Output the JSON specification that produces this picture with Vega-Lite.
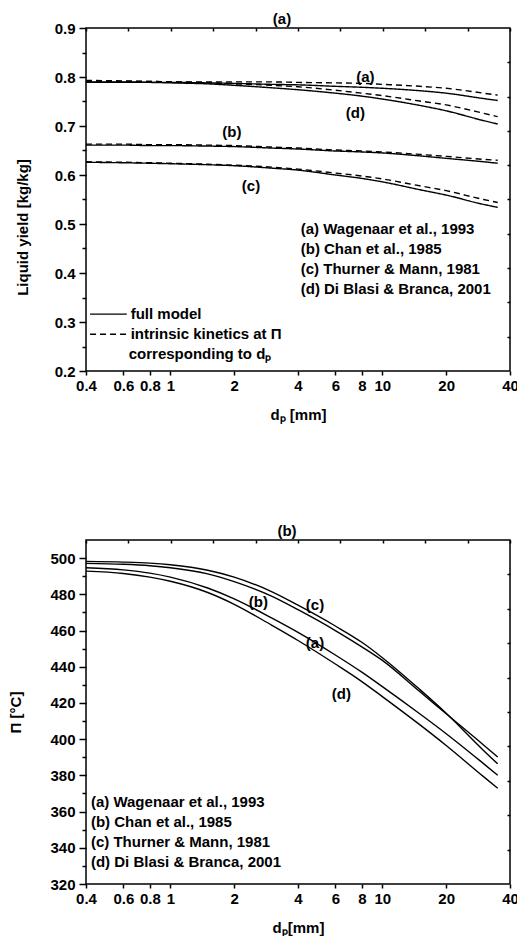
{
  "$schema": "https://vega.github.io/schema/vega-lite/v6.json",
  "padding": {"left": 8, "top": 11, "right": 0, "bottom": 0},
  "spacing": 100,
  "config": {
    "font": "Liberation Sans",
    "view": {"stroke": "black", "strokeWidth": 1.5},
    "axis": {"labelFontSize": 15, "labelFontWeight": "bold", "labelColor": "black", "titleFontSize": 15, "titleFontWeight": "bold", "titleColor": "black", "tickColor": "black", "tickWidth": 1.5, "grid": false, "domain": false, "labelOverlap": false, "labelFlush": false, "labelBound": false},
    "title": {"fontSize": 15, "fontWeight": "bold", "color": "black"},
    "text": {"fontSize": 15, "fontWeight": "bold", "color": "black"}
  },
  "datasets": {
    "lineA": [
      {"d":0.4,"y":0.789,"curve":"a","kind":"full"},{"d":0.6,"y":0.789,"curve":"a","kind":"full"},{"d":0.8,"y":0.789,"curve":"a","kind":"full"},{"d":1,"y":0.789,"curve":"a","kind":"full"},{"d":1.5,"y":0.788,"curve":"a","kind":"full"},{"d":2,"y":0.787,"curve":"a","kind":"full"},{"d":3,"y":0.785,"curve":"a","kind":"full"},{"d":4,"y":0.784,"curve":"a","kind":"full"},{"d":6,"y":0.781,"curve":"a","kind":"full"},{"d":8,"y":0.779,"curve":"a","kind":"full"},{"d":10,"y":0.777,"curve":"a","kind":"full"},{"d":15,"y":0.772,"curve":"a","kind":"full"},{"d":20,"y":0.767,"curve":"a","kind":"full"},{"d":30,"y":0.756,"curve":"a","kind":"full"},{"d":35,"y":0.752,"curve":"a","kind":"full"},
      {"d":0.4,"y":0.792,"curve":"a","kind":"intrinsic"},{"d":0.6,"y":0.791,"curve":"a","kind":"intrinsic"},{"d":0.8,"y":0.791,"curve":"a","kind":"intrinsic"},{"d":1,"y":0.790,"curve":"a","kind":"intrinsic"},{"d":1.5,"y":0.790,"curve":"a","kind":"intrinsic"},{"d":2,"y":0.790,"curve":"a","kind":"intrinsic"},{"d":3,"y":0.790,"curve":"a","kind":"intrinsic"},{"d":4,"y":0.789,"curve":"a","kind":"intrinsic"},{"d":6,"y":0.788,"curve":"a","kind":"intrinsic"},{"d":8,"y":0.787,"curve":"a","kind":"intrinsic"},{"d":10,"y":0.785,"curve":"a","kind":"intrinsic"},{"d":15,"y":0.781,"curve":"a","kind":"intrinsic"},{"d":20,"y":0.777,"curve":"a","kind":"intrinsic"},{"d":30,"y":0.767,"curve":"a","kind":"intrinsic"},{"d":35,"y":0.763,"curve":"a","kind":"intrinsic"},
      {"d":0.4,"y":0.790,"curve":"d","kind":"full"},{"d":0.6,"y":0.790,"curve":"d","kind":"full"},{"d":0.8,"y":0.789,"curve":"d","kind":"full"},{"d":1,"y":0.788,"curve":"d","kind":"full"},{"d":1.5,"y":0.786,"curve":"d","kind":"full"},{"d":2,"y":0.783,"curve":"d","kind":"full"},{"d":3,"y":0.778,"curve":"d","kind":"full"},{"d":4,"y":0.774,"curve":"d","kind":"full"},{"d":6,"y":0.767,"curve":"d","kind":"full"},{"d":8,"y":0.761,"curve":"d","kind":"full"},{"d":10,"y":0.755,"curve":"d","kind":"full"},{"d":15,"y":0.742,"curve":"d","kind":"full"},{"d":20,"y":0.731,"curve":"d","kind":"full"},{"d":30,"y":0.711,"curve":"d","kind":"full"},{"d":35,"y":0.704,"curve":"d","kind":"full"},
      {"d":0.4,"y":0.793,"curve":"d","kind":"intrinsic"},{"d":0.6,"y":0.792,"curve":"d","kind":"intrinsic"},{"d":0.8,"y":0.791,"curve":"d","kind":"intrinsic"},{"d":1,"y":0.790,"curve":"d","kind":"intrinsic"},{"d":1.5,"y":0.788,"curve":"d","kind":"intrinsic"},{"d":2,"y":0.786,"curve":"d","kind":"intrinsic"},{"d":3,"y":0.783,"curve":"d","kind":"intrinsic"},{"d":4,"y":0.780,"curve":"d","kind":"intrinsic"},{"d":6,"y":0.773,"curve":"d","kind":"intrinsic"},{"d":8,"y":0.767,"curve":"d","kind":"intrinsic"},{"d":10,"y":0.762,"curve":"d","kind":"intrinsic"},{"d":15,"y":0.751,"curve":"d","kind":"intrinsic"},{"d":20,"y":0.743,"curve":"d","kind":"intrinsic"},{"d":30,"y":0.726,"curve":"d","kind":"intrinsic"},{"d":35,"y":0.719,"curve":"d","kind":"intrinsic"},
      {"d":0.4,"y":0.661,"curve":"b","kind":"full"},{"d":0.6,"y":0.661,"curve":"b","kind":"full"},{"d":0.8,"y":0.660,"curve":"b","kind":"full"},{"d":1,"y":0.660,"curve":"b","kind":"full"},{"d":1.5,"y":0.659,"curve":"b","kind":"full"},{"d":2,"y":0.658,"curve":"b","kind":"full"},{"d":3,"y":0.655,"curve":"b","kind":"full"},{"d":4,"y":0.653,"curve":"b","kind":"full"},{"d":6,"y":0.649,"curve":"b","kind":"full"},{"d":8,"y":0.647,"curve":"b","kind":"full"},{"d":10,"y":0.645,"curve":"b","kind":"full"},{"d":15,"y":0.639,"curve":"b","kind":"full"},{"d":20,"y":0.634,"curve":"b","kind":"full"},{"d":30,"y":0.627,"curve":"b","kind":"full"},{"d":35,"y":0.624,"curve":"b","kind":"full"},
      {"d":0.4,"y":0.663,"curve":"b","kind":"intrinsic"},{"d":0.6,"y":0.663,"curve":"b","kind":"intrinsic"},{"d":0.8,"y":0.662,"curve":"b","kind":"intrinsic"},{"d":1,"y":0.662,"curve":"b","kind":"intrinsic"},{"d":1.5,"y":0.661,"curve":"b","kind":"intrinsic"},{"d":2,"y":0.660,"curve":"b","kind":"intrinsic"},{"d":3,"y":0.657,"curve":"b","kind":"intrinsic"},{"d":4,"y":0.655,"curve":"b","kind":"intrinsic"},{"d":6,"y":0.651,"curve":"b","kind":"intrinsic"},{"d":8,"y":0.649,"curve":"b","kind":"intrinsic"},{"d":10,"y":0.647,"curve":"b","kind":"intrinsic"},{"d":15,"y":0.642,"curve":"b","kind":"intrinsic"},{"d":20,"y":0.638,"curve":"b","kind":"intrinsic"},{"d":30,"y":0.632,"curve":"b","kind":"intrinsic"},{"d":35,"y":0.630,"curve":"b","kind":"intrinsic"},
      {"d":0.4,"y":0.626,"curve":"c","kind":"full"},{"d":0.6,"y":0.625,"curve":"c","kind":"full"},{"d":0.8,"y":0.624,"curve":"c","kind":"full"},{"d":1,"y":0.623,"curve":"c","kind":"full"},{"d":1.5,"y":0.621,"curve":"c","kind":"full"},{"d":2,"y":0.619,"curve":"c","kind":"full"},{"d":3,"y":0.614,"curve":"c","kind":"full"},{"d":4,"y":0.610,"curve":"c","kind":"full"},{"d":6,"y":0.600,"curve":"c","kind":"full"},{"d":8,"y":0.593,"curve":"c","kind":"full"},{"d":10,"y":0.586,"curve":"c","kind":"full"},{"d":15,"y":0.570,"curve":"c","kind":"full"},{"d":20,"y":0.559,"curve":"c","kind":"full"},{"d":30,"y":0.540,"curve":"c","kind":"full"},{"d":35,"y":0.534,"curve":"c","kind":"full"},
      {"d":0.4,"y":0.627,"curve":"c","kind":"intrinsic"},{"d":0.6,"y":0.626,"curve":"c","kind":"intrinsic"},{"d":0.8,"y":0.625,"curve":"c","kind":"intrinsic"},{"d":1,"y":0.624,"curve":"c","kind":"intrinsic"},{"d":1.5,"y":0.622,"curve":"c","kind":"intrinsic"},{"d":2,"y":0.620,"curve":"c","kind":"intrinsic"},{"d":3,"y":0.616,"curve":"c","kind":"intrinsic"},{"d":4,"y":0.612,"curve":"c","kind":"intrinsic"},{"d":6,"y":0.604,"curve":"c","kind":"intrinsic"},{"d":8,"y":0.598,"curve":"c","kind":"intrinsic"},{"d":10,"y":0.592,"curve":"c","kind":"intrinsic"},{"d":15,"y":0.578,"curve":"c","kind":"intrinsic"},{"d":20,"y":0.568,"curve":"c","kind":"intrinsic"},{"d":30,"y":0.550,"curve":"c","kind":"intrinsic"},{"d":35,"y":0.544,"curve":"c","kind":"intrinsic"}
    ],
    "labA": [
      {"d":8.32,"y":0.801,"t":"(a)"},{"d":7.46,"y":0.726,"t":"(d)"},{"d":1.95,"y":0.687,"t":"(b)"},{"d":2.4,"y":0.577,"t":"(c)"}
    ],
    "legTextA": [
      {"d":4.12,"y":0.489,"t":"(a) Wagenaar et al., 1993"},
      {"d":4.12,"y":0.448,"t":"(b) Chan et al., 1985"},
      {"d":4.12,"y":0.408,"t":"(c) Thurner & Mann, 1981"},
      {"d":4.12,"y":0.367,"t":"(d) Di Blasi & Branca, 2001"},
      {"d":0.65,"y":0.316,"t":"full model"},
      {"d":0.65,"y":0.275,"t":"intrinsic kinetics at Π"},
      {"d":0.636,"y":0.234,"t":"corresponding to dₚ"}
    ],
    "legLineA": [
      {"d":0.418,"d2":0.623,"y":0.316,"kind":"full"},
      {"d":0.418,"d2":0.623,"y":0.275,"kind":"intrinsic"}
    ],
    "lineB": [
      {"d":0.4,"y":498.2,"curve":"c"},{"d":0.6,"y":497.8,"curve":"c"},{"d":0.8,"y":497.2,"curve":"c"},{"d":1,"y":496.3,"curve":"c"},{"d":1.5,"y":493.3,"curve":"c"},{"d":2,"y":489.5,"curve":"c"},{"d":3,"y":481.5,"curve":"c"},{"d":4,"y":474.0,"curve":"c"},{"d":6,"y":462.5,"curve":"c"},{"d":8,"y":453.5,"curve":"c"},{"d":10,"y":445.0,"curve":"c"},{"d":15,"y":427.5,"curve":"c"},{"d":20,"y":414.3,"curve":"c"},{"d":30,"y":393.8,"curve":"c"},{"d":35,"y":386.4,"curve":"c"},
      {"d":0.4,"y":497.1,"curve":"b"},{"d":0.6,"y":496.6,"curve":"b"},{"d":0.8,"y":495.8,"curve":"b"},{"d":1,"y":494.7,"curve":"b"},{"d":1.5,"y":491.3,"curve":"b"},{"d":2,"y":487.0,"curve":"b"},{"d":3,"y":479.0,"curve":"b"},{"d":4,"y":471.5,"curve":"b"},{"d":6,"y":460.0,"curve":"b"},{"d":8,"y":451.0,"curve":"b"},{"d":10,"y":443.5,"curve":"b"},{"d":15,"y":426.3,"curve":"b"},{"d":20,"y":414.0,"curve":"b"},{"d":30,"y":396.8,"curve":"b"},{"d":35,"y":390.1,"curve":"b"},
      {"d":0.4,"y":494.7,"curve":"a"},{"d":0.6,"y":493.5,"curve":"a"},{"d":0.8,"y":491.7,"curve":"a"},{"d":1,"y":489.5,"curve":"a"},{"d":1.5,"y":483.5,"curve":"a"},{"d":2,"y":477.5,"curve":"a"},{"d":3,"y":467.0,"curve":"a"},{"d":4,"y":459.0,"curve":"a"},{"d":6,"y":446.5,"curve":"a"},{"d":8,"y":437.0,"curve":"a"},{"d":10,"y":429.0,"curve":"a"},{"d":15,"y":414.0,"curve":"a"},{"d":20,"y":403.0,"curve":"a"},{"d":30,"y":386.5,"curve":"a"},{"d":35,"y":380.1,"curve":"a"},
      {"d":0.4,"y":492.8,"curve":"d"},{"d":0.6,"y":491.5,"curve":"d"},{"d":0.8,"y":489.5,"curve":"d"},{"d":1,"y":487.2,"curve":"d"},{"d":1.5,"y":481.0,"curve":"d"},{"d":2,"y":474.5,"curve":"d"},{"d":3,"y":463.0,"curve":"d"},{"d":4,"y":454.5,"curve":"d"},{"d":6,"y":441.5,"curve":"d"},{"d":8,"y":431.8,"curve":"d"},{"d":10,"y":423.5,"curve":"d"},{"d":15,"y":408.0,"curve":"d"},{"d":20,"y":396.5,"curve":"d"},{"d":30,"y":379.3,"curve":"d"},{"d":35,"y":372.9,"curve":"d"}
    ],
    "labB": [
      {"d":2.6,"y":475.7,"t":"(b)"},{"d":4.81,"y":473.9,"t":"(c)"},{"d":4.81,"y":453.3,"t":"(a)"},{"d":6.41,"y":425.1,"t":"(d)"}
    ],
    "legTextB": [
      {"d":0.422,"y":365.2,"t":"(a) Wagenaar et al., 1993"},
      {"d":0.422,"y":354.1,"t":"(b) Chan et al., 1985"},
      {"d":0.422,"y":343.1,"t":"(c) Thurner & Mann, 1981"},
      {"d":0.422,"y":332.0,"t":"(d) Di Blasi & Branca, 2001"}
    ]
  },
  "vconcat": [
    {
      "width": 424,
      "height": 343,
      "title": {"text": "(a)", "offset": -6, "dx": -16},
      "resolve": {"axis": {"x": "independent", "y": "independent"}},
      "layer": [
        {
          "data": {"name": "lineA"},
          "mark": {"type": "line", "color": "black", "strokeWidth": 1.4, "interpolate": "monotone"},
          "encoding": {
            "x": {"field": "d", "type": "quantitative", "scale": {"type": "log", "domain": [0.4, 40], "nice": false},
              "axis": {"orient": "bottom", "values": [0.4,0.6,0.8,1,2,4,6,8,10,20,40], "format": "~g", "tickSize": 4, "labelPadding": 3, "title": "dₚ [mm]", "titlePadding": 14}},
            "y": {"field": "y", "type": "quantitative", "scale": {"domain": [0.2, 0.9], "nice": false, "zero": false},
              "axis": {"orient": "left", "values": [0.2,0.25,0.3,0.35,0.4,0.45,0.5,0.55,0.6,0.65,0.7,0.75,0.8,0.85,0.9],
                "labelExpr": "abs(datum.value*10 - round(datum.value*10)) > 0.1 ? '' : format(datum.value, '.1f')",
                "tickSize": {"condition": {"test": "abs(datum.value*10 - round(datum.value*10)) > 0.1", "value": 4}, "value": 7},
                "labelPadding": 4, "title": "Liquid yield [kg/kg]", "titlePadding": 24, "titleY": 199}},
            "detail": {"field": "curve"},
            "strokeDash": {"field": "kind", "type": "nominal", "scale": {"domain": ["full", "intrinsic"], "range": [[1, 0], [6, 4]]}, "legend": null}
          }
        },
        {
          "data": {"name": "legLineA"},
          "mark": {"type": "rule", "color": "black", "strokeWidth": 1.4},
          "encoding": {
            "x": {"field": "d", "type": "quantitative",
              "axis": {"orient": "top", "values": [0.4,0.63396,1.00475,1.59243,2.52383,4,6.33957,10.0475,15.9243,25.2383,40], "labels": false, "tickSize": 3, "offset": -3, "title": null}},
            "x2": {"field": "d2"},
            "y": {"field": "y", "type": "quantitative",
              "axis": {"orient": "right", "values": [0.27,0.34,0.41,0.48,0.55,0.62,0.69,0.76,0.83], "labels": false, "tickSize": 3, "offset": -3, "title": null}},
            "strokeDash": {"field": "kind", "type": "nominal", "legend": null}
          }
        },
        {
          "data": {"name": "labA"},
          "mark": {"type": "text", "align": "center", "baseline": "middle"},
          "encoding": {
            "x": {"field": "d", "type": "quantitative", "axis": null},
            "y": {"field": "y", "type": "quantitative", "axis": null},
            "text": {"field": "t"}
          }
        },
        {
          "data": {"name": "legTextA"},
          "mark": {"type": "text", "align": "left", "baseline": "middle"},
          "encoding": {
            "x": {"field": "d", "type": "quantitative", "axis": null},
            "y": {"field": "y", "type": "quantitative", "axis": null},
            "text": {"field": "t"}
          }
        }
      ]
    },
    {
      "width": 424,
      "height": 344,
      "title": {"text": "(b)", "offset": 0, "dx": -11},
      "resolve": {"axis": {"x": "independent", "y": "independent"}},
      "layer": [
        {
          "data": {"name": "lineB"},
          "mark": {"type": "line", "color": "black", "strokeWidth": 1.4, "interpolate": "monotone"},
          "encoding": {
            "x": {"field": "d", "type": "quantitative", "scale": {"type": "log", "domain": [0.4, 40], "nice": false},
              "axis": {"orient": "bottom", "values": [0.4,0.6,0.8,1,2,4,6,8,10,20,40], "format": "~g", "tickSize": 4, "labelPadding": 3, "title": "dₚ[mm]", "titlePadding": 14}},
            "y": {"field": "y", "type": "quantitative", "scale": {"domain": [320, 510], "nice": false, "zero": false},
              "axis": {"orient": "left", "values": [320,330,340,350,360,370,380,390,400,410,420,430,440,450,460,470,480,490,500],
                "labelExpr": "datum.value % 20 != 0 ? '' : format(datum.value, 'd')",
                "tickSize": {"condition": {"test": "datum.value % 20 != 0", "value": 4}, "value": 7},
                "labelPadding": 4, "title": "Π [°C]", "titlePadding": 26}},
            "detail": {"field": "curve"}
          }
        },
        {
          "data": {"name": "labB"},
          "mark": {"type": "text", "align": "center", "baseline": "middle"},
          "encoding": {
            "x": {"field": "d", "type": "quantitative",
              "axis": {"orient": "top", "values": [0.4,0.63396,1.00475,1.59243,2.52383,4,6.33957,10.0475,15.9243,25.2383,40], "labels": false, "tickSize": 3, "offset": -3, "title": null}},
            "y": {"field": "y", "type": "quantitative",
              "axis": {"orient": "right", "values": [339,358,377,396,415,434,453,472,491], "labels": false, "tickSize": 3, "offset": -3, "title": null}},
            "text": {"field": "t"}
          }
        },
        {
          "data": {"name": "legTextB"},
          "mark": {"type": "text", "align": "left", "baseline": "middle"},
          "encoding": {
            "x": {"field": "d", "type": "quantitative", "axis": null},
            "y": {"field": "y", "type": "quantitative", "axis": null},
            "text": {"field": "t"}
          }
        }
      ]
    }
  ]
}
